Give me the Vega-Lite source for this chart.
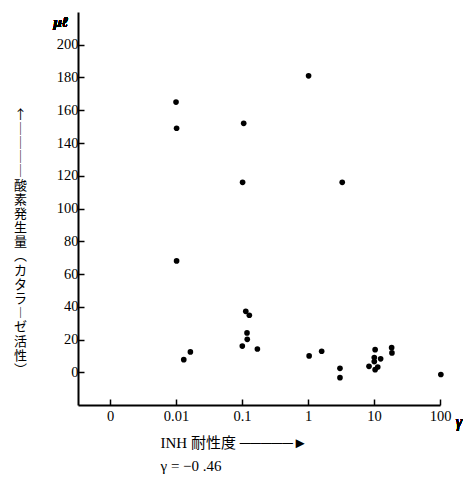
{
  "$schema": "https://vega.github.io/schema/vega-lite/v6.json",
  "autosize": {"type": "none"},
  "width": 362,
  "height": 393,
  "padding": {"left": 78, "top": 12, "right": 34, "bottom": 76},
  "background": "white",
  "config": {
    "view": {"stroke": null},
    "axis": {
      "domainColor": "black",
      "domainWidth": 2,
      "tickColor": "black",
      "tickWidth": 1.5,
      "grid": false,
      "labelFont": "Liberation Serif",
      "labelFontSize": 14.5,
      "labelColor": "black",
      "titleColor": "black"
    }
  },
  "data": {
    "values": [
      {"inh": 0.0100, "o2": 165},
      {"inh": 0.0102, "o2": 149},
      {"inh": 0.0102, "o2": 68},
      {"inh": 0.106, "o2": 152},
      {"inh": 0.102, "o2": 116},
      {"inh": 1.02, "o2": 181},
      {"inh": 3.3, "o2": 116},
      {"inh": 0.0131, "o2": 7.7},
      {"inh": 0.0165, "o2": 12.4},
      {"inh": 0.114, "o2": 37.2},
      {"inh": 0.129, "o2": 34.8},
      {"inh": 0.119, "o2": 24},
      {"inh": 0.120, "o2": 20.1},
      {"inh": 0.101, "o2": 16},
      {"inh": 0.171, "o2": 14.2},
      {"inh": 1.04, "o2": 10},
      {"inh": 1.61, "o2": 12.8},
      {"inh": 3.05, "o2": 2.4},
      {"inh": 3.05, "o2": -3.3},
      {"inh": 10.4, "o2": 13.8},
      {"inh": 10.1, "o2": 9.0},
      {"inh": 12.6, "o2": 8.2},
      {"inh": 10.1, "o2": 6.5},
      {"inh": 8.4, "o2": 3.6},
      {"inh": 11.4, "o2": 3.2},
      {"inh": 10.4, "o2": 1.6},
      {"inh": 18.5, "o2": 15},
      {"inh": 18.7, "o2": 11.8},
      {"inh": 103, "o2": -1.4}
    ]
  },
  "layer": [
    {
      "mark": {"type": "circle", "color": "black", "opacity": 1, "size": 32},
      "encoding": {
        "x": {
          "field": "inh",
          "type": "quantitative",
          "scale": {"type": "log", "domain": [0.000327, 100], "nice": false},
          "axis": {
            "values": [0.001, 0.01, 0.1, 1, 10, 100],
            "labelExpr": "datum.value < 0.005 ? '0' : datum.value < 0.05 ? '0.01' : datum.value < 0.5 ? '0.1' : datum.value < 5 ? '1' : datum.value < 50 ? '10' : '100'",
            "tickSize": -6,
            "labelPadding": 10,
            "labelFlush": false,
            "labelOverlap": false,
            "title": ["INH 耐性度 ─────►", "γ = −0 .46"],
            "titleFont": "Liberation Serif, Noto Sans CJK JP",
            "titleFontSize": 15,
            "titleFontWeight": "normal",
            "titleAlign": "left",
            "titleAnchor": "start",
            "titleBaseline": "top",
            "titleX": 82,
            "titleY": 30,
            "titleLineHeight": 23
          }
        },
        "y": {
          "field": "o2",
          "type": "quantitative",
          "scale": {"domain": [-20, 220], "nice": false, "zero": false},
          "axis": {
            "values": [0, 20, 40, 60, 80, 100, 120, 140, 160, 180, 200],
            "tickSize": -6,
            "labelPadding": 6,
            "labelOverlap": false,
            "title": ["↑", "│", "│", "│", "│", "酸", "素", "発", "生", "量", "︵", "カ", "タ", "ラ", "︱", "ゼ", "活", "性", "︶"],
            "titleFont": "Noto Sans CJK JP",
            "titleFontSize": 13,
            "titleFontWeight": "normal",
            "titleAngle": 0,
            "titleAlign": "center",
            "titleBaseline": "top",
            "titleX": -58,
            "titleY": 96,
            "titleLineHeight": 14.2
          }
        }
      }
    },
    {
      "mark": {"type": "text", "text": "μℓ", "font": "Liberation Serif", "fontSize": 15, "fontWeight": "bold", "fontStyle": "italic", "color": "black", "baseline": "middle", "align": "center", "clip": false},
      "encoding": {
        "x": {
          "datum": 0.00018, "type": "quantitative",
          "axis": {
            "values": [0.001, 0.01, 0.1, 1, 10, 100],
            "labelExpr": "datum.value < 0.005 ? '0' : datum.value < 0.05 ? '0.01' : datum.value < 0.5 ? '0.1' : datum.value < 5 ? '1' : datum.value < 50 ? '10' : '100'",
            "tickSize": -6,
            "labelPadding": 10,
            "labelFlush": false,
            "labelOverlap": false,
            "title": ["INH 耐性度 ─────►", "γ = −0 .46"],
            "titleFont": "Liberation Serif, Noto Sans CJK JP",
            "titleFontSize": 15,
            "titleFontWeight": "normal",
            "titleAlign": "left",
            "titleAnchor": "start",
            "titleBaseline": "top",
            "titleX": 82,
            "titleY": 30,
            "titleLineHeight": 23
          }
        },
        "y": {
          "datum": 214, "type": "quantitative",
          "axis": {
            "values": [0, 20, 40, 60, 80, 100, 120, 140, 160, 180, 200],
            "tickSize": -6,
            "labelPadding": 6,
            "labelOverlap": false,
            "title": ["↑", "│", "│", "│", "│", "酸", "素", "発", "生", "量", "︵", "カ", "タ", "ラ", "︱", "ゼ", "活", "性", "︶"],
            "titleFont": "Noto Sans CJK JP",
            "titleFontSize": 13,
            "titleFontWeight": "normal",
            "titleAngle": 0,
            "titleAlign": "center",
            "titleBaseline": "top",
            "titleX": -58,
            "titleY": 96,
            "titleLineHeight": 14.2
          }
        }
      }
    },
    {
      "mark": {"type": "text", "text": "γ", "font": "Liberation Serif", "fontSize": 16, "fontStyle": "italic", "color": "black", "baseline": "middle", "align": "center", "clip": false},
      "encoding": {
        "x": {
          "datum": 194, "type": "quantitative",
          "axis": {
            "values": [0.001, 0.01, 0.1, 1, 10, 100],
            "labelExpr": "datum.value < 0.005 ? '0' : datum.value < 0.05 ? '0.01' : datum.value < 0.5 ? '0.1' : datum.value < 5 ? '1' : datum.value < 50 ? '10' : '100'",
            "tickSize": -6,
            "labelPadding": 10,
            "labelFlush": false,
            "labelOverlap": false,
            "title": ["INH 耐性度 ─────►", "γ = −0 .46"],
            "titleFont": "Liberation Serif, Noto Sans CJK JP",
            "titleFontSize": 15,
            "titleFontWeight": "normal",
            "titleAlign": "left",
            "titleAnchor": "start",
            "titleBaseline": "top",
            "titleX": 82,
            "titleY": 30,
            "titleLineHeight": 23
          }
        },
        "y": {
          "datum": -30.4, "type": "quantitative",
          "axis": {
            "values": [0, 20, 40, 60, 80, 100, 120, 140, 160, 180, 200],
            "tickSize": -6,
            "labelPadding": 6,
            "labelOverlap": false,
            "title": ["↑", "│", "│", "│", "│", "酸", "素", "発", "生", "量", "︵", "カ", "タ", "ラ", "︱", "ゼ", "活", "性", "︶"],
            "titleFont": "Noto Sans CJK JP",
            "titleFontSize": 13,
            "titleFontWeight": "normal",
            "titleAngle": 0,
            "titleAlign": "center",
            "titleBaseline": "top",
            "titleX": -58,
            "titleY": 96,
            "titleLineHeight": 14.2
          }
        }
      }
    }
  ]
}
